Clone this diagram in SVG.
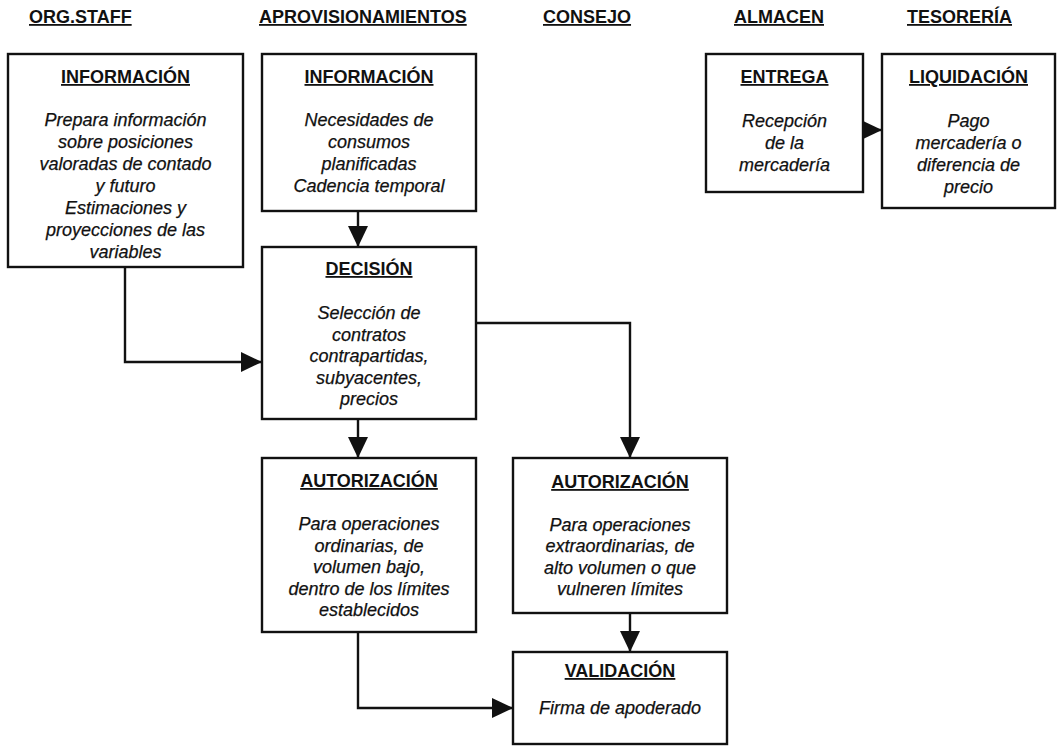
<svg xmlns="http://www.w3.org/2000/svg" width="1058" height="749" viewBox="0 0 1058 749">
  <defs>
    <marker id="arrow" markerUnits="userSpaceOnUse" markerWidth="22" markerHeight="20" refX="21" refY="10" orient="auto">
      <path d="M0,0 L21,10 L0,20 Z" fill="#111"/>
    </marker>
    <style>
      .box { fill: #fff; stroke: #111; stroke-width: 2.4; }
      .hdr { font-family: "Liberation Sans", Arial, sans-serif; font-weight: bold; font-size: 18px; fill: #111; text-decoration: underline; }
      .ttl { font-family: "Liberation Sans", Arial, sans-serif; font-weight: bold; font-size: 18px; fill: #111; text-anchor: middle; text-decoration: underline; }
      .txt { font-family: "Liberation Sans", Arial, sans-serif; font-style: italic; font-size: 18px; fill: #111; stroke: #111; stroke-width: 0.25; text-anchor: middle; }
      .con { fill: none; stroke: #111; stroke-width: 2.4; }
    </style>
  </defs>
  <rect width="1058" height="749" fill="#fff"/>

  <!-- column headers -->
  <g id="headers">
    <text class="hdr" x="29" y="23">ORG.STAFF</text>
    <text class="hdr" x="259" y="23">APROVISIONAMIENTOS</text>
    <text class="hdr" x="543" y="23">CONSEJO</text>
    <text class="hdr" x="734" y="23">ALMACEN</text>
    <text class="hdr" x="907" y="23">TESORERÍA</text>
  </g>

  <!-- connectors -->
  <g id="connectors">
    <path class="con" d="M358,211 L358,247" marker-end="url(#arrow)"/>
    <path class="con" d="M125,267 L125,362 L262,362" marker-end="url(#arrow)"/>
    <path class="con" d="M476,323 L630,323 L630,458" marker-end="url(#arrow)"/>
    <path class="con" d="M358,419 L358,458" marker-end="url(#arrow)"/>
    <path class="con" d="M630,613 L630,652" marker-end="url(#arrow)"/>
    <path class="con" d="M358,632 L358,708 L513,708" marker-end="url(#arrow)"/>
    <path class="con" d="M863,130 L882,130" marker-end="url(#arrow)"/>
  </g>

  <g id="info-staff">
    <rect class="box" x="8" y="54" width="235" height="213"/>
    <text class="ttl" x="125.5" y="83">INFORMACIÓN</text>
    <text class="txt" x="125.5" y="126">Prepara información</text>
    <text class="txt" x="125.5" y="148">sobre posiciones</text>
    <text class="txt" x="125.5" y="170">valoradas de contado</text>
    <text class="txt" x="125.5" y="192">y futuro</text>
    <text class="txt" x="125.5" y="214">Estimaciones y</text>
    <text class="txt" x="125.5" y="236">proyecciones de las</text>
    <text class="txt" x="125.5" y="258">variables</text>
  </g>

  <g id="info-aprov">
    <rect class="box" x="262" y="54" width="214" height="157"/>
    <text class="ttl" x="369" y="83">INFORMACIÓN</text>
    <text class="txt" x="369" y="126">Necesidades de</text>
    <text class="txt" x="369" y="148">consumos</text>
    <text class="txt" x="369" y="170">planificadas</text>
    <text class="txt" x="369" y="192">Cadencia temporal</text>
  </g>

  <g id="decision">
    <rect class="box" x="262" y="247" width="214" height="172"/>
    <text class="ttl" x="369" y="275">DECISIÓN</text>
    <text class="txt" x="369" y="319">Selección de</text>
    <text class="txt" x="369" y="340.5">contratos</text>
    <text class="txt" x="369" y="362">contrapartidas,</text>
    <text class="txt" x="369" y="383.5">subyacentes,</text>
    <text class="txt" x="369" y="405">precios</text>
  </g>

  <g id="autorizacion-ordinaria">
    <rect class="box" x="262" y="458" width="214" height="174"/>
    <text class="ttl" x="369" y="487">AUTORIZACIÓN</text>
    <text class="txt" x="369" y="530">Para operaciones</text>
    <text class="txt" x="369" y="551.5">ordinarias, de</text>
    <text class="txt" x="369" y="573">volumen bajo,</text>
    <text class="txt" x="369" y="594.5">dentro de los límites</text>
    <text class="txt" x="369" y="616">establecidos</text>
  </g>

  <g id="autorizacion-extraordinaria">
    <rect class="box" x="513" y="458" width="214" height="155"/>
    <text class="ttl" x="620" y="488">AUTORIZACIÓN</text>
    <text class="txt" x="620" y="530.5">Para operaciones</text>
    <text class="txt" x="620" y="552">extraordinarias, de</text>
    <text class="txt" x="620" y="573.5">alto volumen o que</text>
    <text class="txt" x="620" y="595">vulneren límites</text>
  </g>

  <g id="validacion">
    <rect class="box" x="513" y="652" width="214" height="92"/>
    <text class="ttl" x="620" y="677">VALIDACIÓN</text>
    <text class="txt" x="620" y="714">Firma de apoderado</text>
  </g>

  <g id="entrega">
    <rect class="box" x="706" y="54" width="157" height="138"/>
    <text class="ttl" x="784.5" y="83">ENTREGA</text>
    <text class="txt" x="784.5" y="127">Recepción</text>
    <text class="txt" x="784.5" y="149">de la</text>
    <text class="txt" x="784.5" y="171">mercadería</text>
  </g>

  <g id="liquidacion">
    <rect class="box" x="882" y="54" width="173" height="154"/>
    <text class="ttl" x="968.5" y="83">LIQUIDACIÓN</text>
    <text class="txt" x="968.5" y="127">Pago</text>
    <text class="txt" x="968.5" y="149">mercadería o</text>
    <text class="txt" x="968.5" y="171">diferencia de</text>
    <text class="txt" x="968.5" y="193">precio</text>
  </g>
</svg>
